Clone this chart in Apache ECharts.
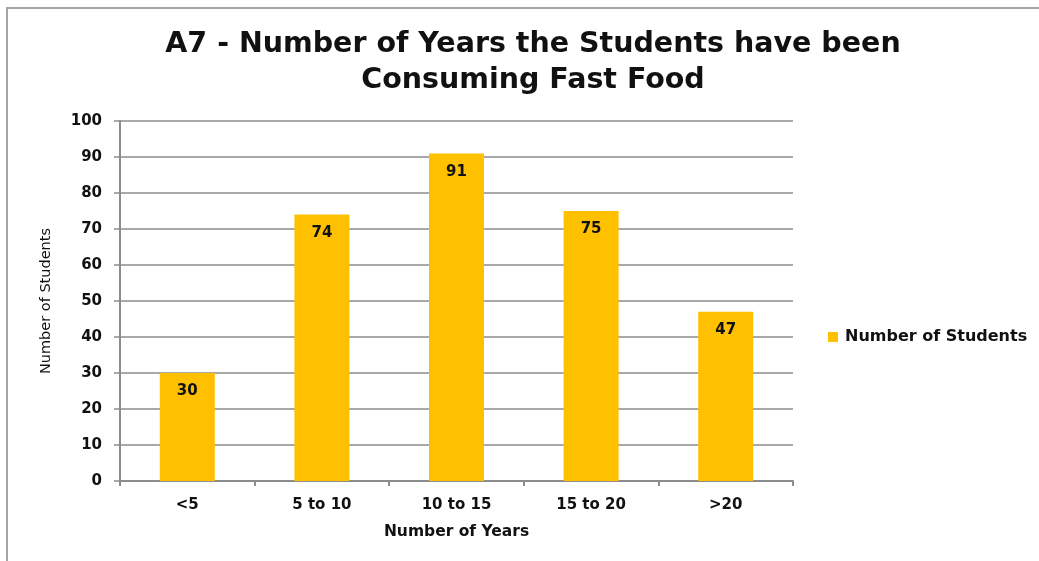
<!DOCTYPE html>
<html>
<head>
<meta charset="utf-8">
<script src="https://cdn.jsdelivr.net/npm/echarts@6/dist/echarts.min.js"></script>
<style>
  html, body { margin: 0; padding: 0; background: #fff; }
  #frame { position: absolute; left: 6px; top: 7px; width: 1100px; height: 600px;
           border-left: 2px solid #a6a6a6; border-top: 2px solid #a6a6a6; }
  #chart { position: absolute; left: 0; top: 0; width: 1039px; height: 561px; }
</style>
</head>
<body>
<div id="frame"></div>
<div id="chart"></div>
<script>
// Years of fast-food consumption and the number of students in each group
const categories = ['<5', '5 to 10', '10 to 15', '15 to 20', '>20'];
const students = [30, 74, 91, 75, 47];
const seriesName = 'Number of Students';

const FONT = '"DejaVu Sans", Verdana, sans-serif';
const chart = echarts.init(document.getElementById('chart'), null, { renderer: 'canvas' });

chart.setOption({
  backgroundColor: 'transparent',
  animation: false,
  title: {
    text: 'A7 - Number of Years the Students have been\nConsuming Fast Food',
    left: 528,
    textAlign: 'center',
    top: 22,
    textStyle: { fontFamily: FONT, fontWeight: 'bold', fontSize: 28.5, lineHeight: 36, color: '#111' }
  },
  legend: {
    data: [seriesName],
    left: 823,
    top: 324,
    icon: 'rect',
    itemWidth: 10,
    itemHeight: 10,
    textStyle: { fontFamily: FONT, fontWeight: 'bold', fontSize: 16, color: '#111', padding: [0, 0, 0, 2] }
  },
  grid: { left: 120, right: 246, top: 121, bottom: 80, containLabel: false },
  xAxis: {
    type: 'category',
    data: categories,
    name: 'Number of Years',
    nameLocation: 'middle',
    nameGap: 43,
    nameTextStyle: { fontFamily: FONT, fontWeight: 'bold', fontSize: 15.5, color: '#111' },
    axisLine: { lineStyle: { color: '#8c8c8c', width: 2 } },
    axisTick: { show: true, alignWithLabel: false, length: 5, lineStyle: { color: '#8c8c8c', width: 2 } },
    axisLabel: { fontFamily: FONT, fontWeight: 'bold', fontSize: 15, color: '#111', margin: 17 }
  },
  yAxis: {
    type: 'value',
    min: 0,
    max: 100,
    interval: 10,
    name: 'Number of Students',
    nameLocation: 'middle',
    nameGap: 66,
    nameRotate: 90,
    nameTextStyle: { fontFamily: FONT, fontSize: 14.5, color: '#111' },
    axisLine: { show: true, lineStyle: { color: '#8c8c8c', width: 2 } },
    axisTick: { show: true, length: 6, lineStyle: { color: '#8c8c8c', width: 1.5 } },
    axisLabel: { fontFamily: FONT, fontWeight: 'bold', fontSize: 15, color: '#111', margin: 18 },
    splitLine: { show: true, lineStyle: { color: '#8c8c8c', width: 1.5 } }
  },
  series: [{
    name: seriesName,
    type: 'bar',
    data: students,
    barWidth: 55,
    itemStyle: { color: '#FFC000' },
    label: {
      show: true,
      position: 'insideTop',
      distance: 11,
      fontFamily: FONT,
      fontWeight: 'bold',
      fontSize: 15,
      color: '#111'
    }
  }]
});
</script>
</body>
</html>
